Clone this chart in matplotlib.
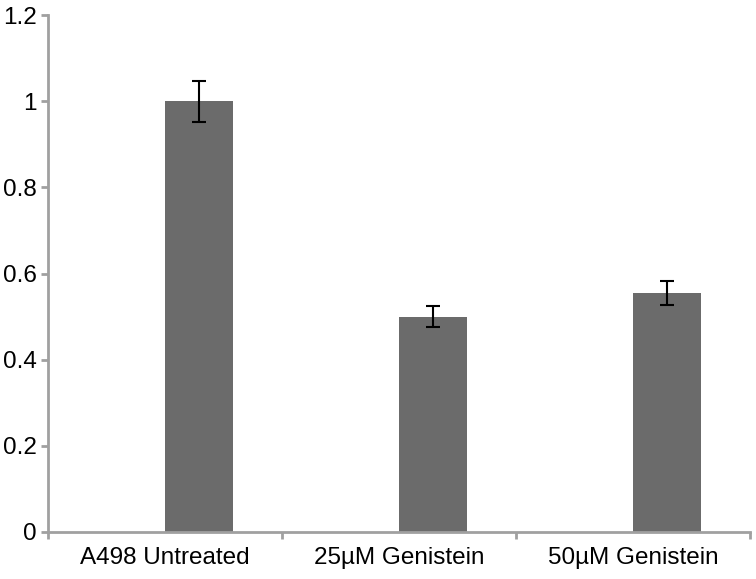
import matplotlib.pyplot as plt
import numpy as np

plt.rcParams['font.family'] = ['Liberation Sans', 'DejaVu Sans']

categories = ["A498 Untreated", "25\u00b5M Genistein", "50\u00b5M Genistein"]
values = [1.0, 0.50, 0.555]
errors = [0.048, 0.025, 0.028]
yticks = [0, 0.2, 0.4, 0.6, 0.8, 1.0, 1.2]
ylabels = ["0", "0.2", "0.4", "0.6", "0.8", "1", "1.2"]

axis_grey = "#a0a0a0"
bar_grey = "#6b6b6b"

fig = plt.figure(figsize=(7.56, 5.79), dpi=100)
ax = fig.add_axes([0.0635, 0.0812, 0.9285, 0.8928])

x = np.arange(len(categories))
# bars sit just right of each category centre (empty second series in the original)
ax.bar(x + 0.147, values, width=0.29, color=bar_grey, zorder=2)
ax.errorbar(x + 0.147, values, yerr=errors, fmt='none', ecolor='black',
            elinewidth=1.5, capsize=5, capthick=1.5, zorder=3)

ax.set_xlim(-0.5, 2.5)
ax.set_ylim(0, 1.2)
ax.set_yticks(yticks)
ax.set_yticklabels(ylabels)

ax.set_xticks(x)
ax.set_xticklabels(categories)
ax.tick_params(axis='x', length=0, pad=11, labelsize=17.5)
ax.set_xticks(np.arange(-0.5, 3.0, 1.0), minor=True)
ax.tick_params(axis='x', which='minor', length=5, width=2, color=axis_grey,
               direction='out')
ax.tick_params(axis='y', length=5, width=2, color=axis_grey, pad=3,
               labelsize=17.5)

for side in ['top', 'right']:
    ax.spines[side].set_visible(False)
for side in ['left', 'bottom']:
    ax.spines[side].set_color(axis_grey)
    ax.spines[side].set_linewidth(2)

fig.savefig("out.png", dpi=100)
